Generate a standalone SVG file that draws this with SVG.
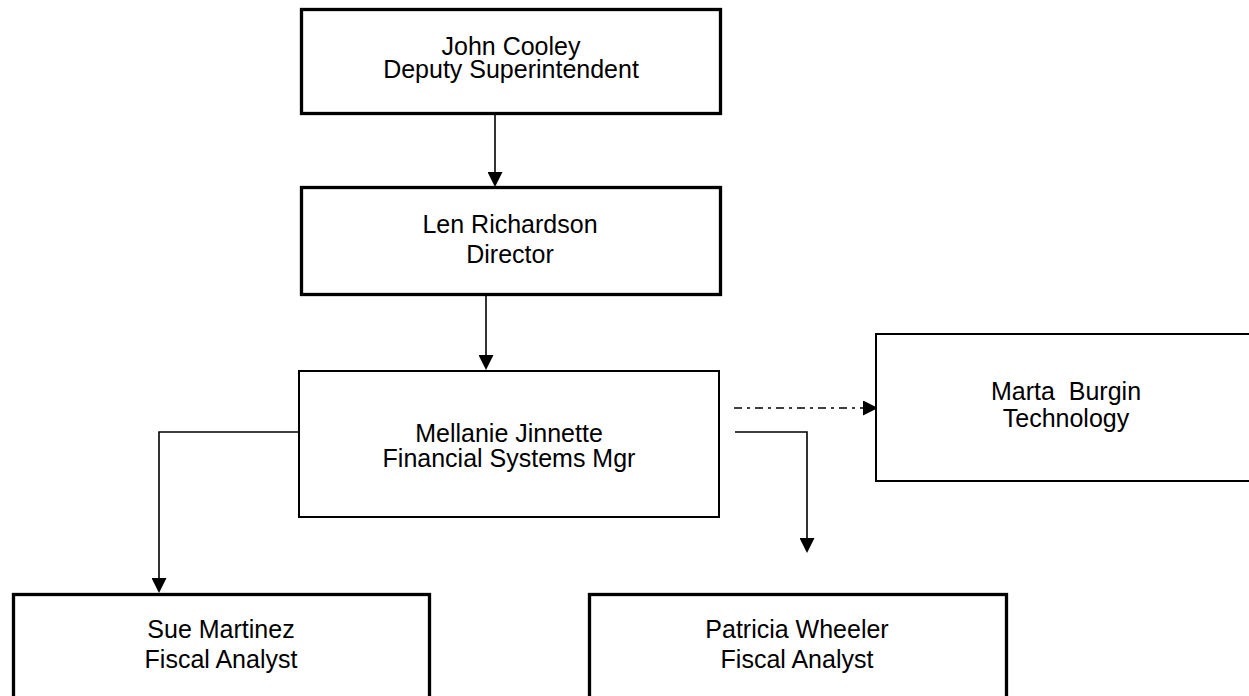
<svg xmlns="http://www.w3.org/2000/svg" width="1249" height="696" viewBox="0 0 1249 696">
<style>
.box{fill:#fff;stroke:#000}
.thick{stroke-width:3.3}
.thin{stroke-width:2}
.lbl{font-family:"Liberation Sans",Arial,sans-serif;font-size:25px;fill:#000;text-anchor:middle}
.conn{fill:none;stroke:#000;stroke-width:1.6}
.dd{stroke-dasharray:8 5 3 5}
</style>
<defs>
<marker id="ah" markerUnits="userSpaceOnUse" markerWidth="15" markerHeight="15" refX="0" refY="7.5" orient="auto">
<path d="M0,0 L15,7.5 L0,15 z" fill="#000"/>
</marker>
</defs>
<rect width="1249" height="696" fill="#fff"/>
<g id="connectors">
<line class="conn" x1="495" y1="115" x2="495" y2="172" marker-end="url(#ah)"/>
<line class="conn" x1="486" y1="296" x2="486" y2="355" marker-end="url(#ah)"/>
<path class="conn" d="M298,432 H159 V578" marker-end="url(#ah)"/>
<path class="conn" d="M735,432 H807 V538" marker-end="url(#ah)"/>
<path class="conn dd" d="M734,408 H863" marker-end="url(#ah)"/>
</g>
<g id="john-cooley">
<rect class="box thick" x="301.5" y="9.5" width="419" height="104"/>
<text class="lbl" x="511" y="55">John Cooley</text>
<text class="lbl" x="511" y="78">Deputy Superintendent</text>
</g>
<g id="len-richardson">
<rect class="box thick" x="301.5" y="187.5" width="419" height="107"/>
<text class="lbl" x="510" y="233">Len Richardson</text>
<text class="lbl" x="510" y="263">Director</text>
</g>
<g id="mellanie-jinnette">
<rect class="box thin" x="299" y="371" width="420" height="146"/>
<text class="lbl" x="509" y="442">Mellanie Jinnette</text>
<text class="lbl" x="509" y="467">Financial Systems Mgr</text>
</g>
<g id="marta-burgin">
<rect class="box thin" x="876" y="334" width="400" height="147"/>
<text class="lbl" x="1066" y="400" xml:space="preserve">Marta  Burgin</text>
<text class="lbl" x="1066" y="427">Technology</text>
</g>
<g id="sue-martinez">
<rect class="box thick" x="13.5" y="594.5" width="416" height="200"/>
<text class="lbl" x="221" y="638">Sue Martinez</text>
<text class="lbl" x="221" y="668">Fiscal Analyst</text>
</g>
<g id="patricia-wheeler">
<rect class="box thick" x="589.5" y="594.5" width="417" height="200"/>
<text class="lbl" x="797" y="638">Patricia Wheeler</text>
<text class="lbl" x="797" y="668">Fiscal Analyst</text>
</g>
</svg>
